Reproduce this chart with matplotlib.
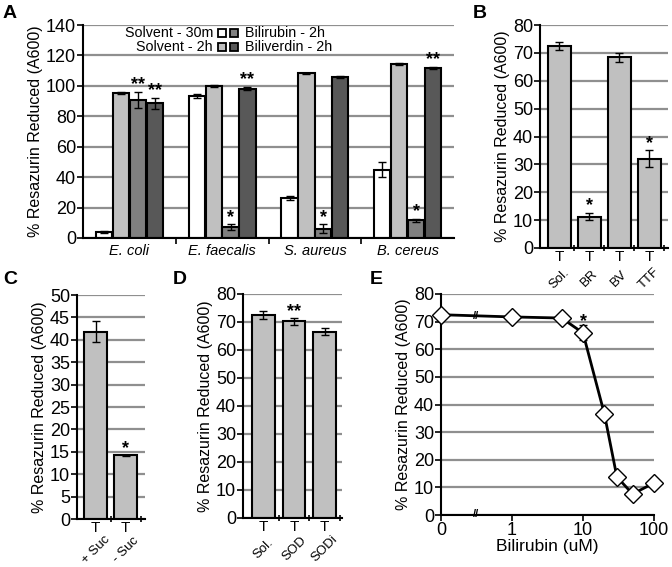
import numpy as np
import matplotlib
matplotlib.use("Agg")
import matplotlib.pyplot as plt
from matplotlib.patches import Rectangle
from matplotlib.transforms import blended_transform_factory

# Global matplotlib parameters
TICK_FONT_SIZE = 13
LABEL_FONT_SIZE = 11.5
CAT_FONT_SIZE = 10.5
ROT_FONT_SIZE = 9.5
GRID_COLOR = "#8f8f8f"
EDGE_WIDTH = 1.5

plt.rc("font", family=["Liberation Sans", "DejaVu Sans"])
plt.rc("xtick", labelsize=CAT_FONT_SIZE)
plt.rc("ytick", labelsize=TICK_FONT_SIZE)

WHITE = "#ffffff"
LIGHT = "#c0c0c0"
MID = "#808080"
DARK = "#585858"

# Panel A
A_GROUPS = ["E. coli", "E. faecalis", "S. aureus", "B. cereus"]
A_SOLVENT_30M = [3.9, 93.4, 26.3, 44.8]
A_SOLVENT_30M_ERR = [0.9, 1.5, 1.5, 5.0]
A_SOLVENT_2H = [95.2, 100.0, 108.3, 114.4]
A_SOLVENT_2H_ERR = [0.6, 0.8, 0.3, 0.9]
A_BILIRUBIN = [90.8, 7.0, 6.1, 11.6]
A_BILIRUBIN_ERR = [5.2, 2.0, 3.0, 1.2]
A_BILIVERDIN = [88.6, 98.2, 106.1, 111.8]
A_BILIVERDIN_ERR = [3.5, 1.2, 0.7, 0.6]
A_BILIRUBIN_STARS = ["**", "*", "*", "*"]
A_BILIVERDIN_STARS = ["**", "**", "", "**"]

# Panel B
B_LABELS = ["Sol.", "BR", "BV", "TTF"]
B_VALUES = [72.5, 11.3, 68.4, 32.0]
B_ERR = [1.4, 1.3, 1.7, 3.0]
B_STARS = ["", "*", "", "*"]

# Panel C
C_LABELS = ["+ Suc", "- Suc"]
C_VALUES = [41.8, 14.2]
C_ERR = [2.4, 0.1]
C_STARS = ["", "*"]

# Panel D
D_LABELS = ["Sol.", "SOD", "SODi"]
D_VALUES = [72.5, 70.2, 66.6]
D_ERR = [1.3, 1.2, 1.4]
D_STARS = ["", "**", ""]

# Panel E
E_CONC = [0, 1, 5, 10, 20, 30, 50, 100]
E_VALUES = [72.5, 71.7, 71.3, 65.9, 36.6, 13.8, 7.6, 11.6]
E_ERR = [0.4, 0.4, 0.4, 2.7, 0.4, 0.4, 0.4, 0.4]
E_STARS = ["", "", "", "*", "", "", "", ""]
E_TICKS = [0, 1, 10, 100]

YLABEL = "% Resazurin Reduced (A600)"


def stylizeAxes(ax, ymax, ystep):
    ax.set_ylim(0, ymax)
    ax.set_yticks(np.arange(0, ymax + 0.1, ystep))
    ax.yaxis.grid(True, color=GRID_COLOR, linewidth=1.6)
    ax.set_axisbelow(True)
    for side in ["top", "right"]:
        ax.spines[side].set_visible(False)
    for side in ["left", "bottom"]:
        ax.spines[side].set_linewidth(EDGE_WIDTH)
    ax.tick_params(axis="y", direction="out", length=4, width=1.2, pad=1)
    ax.set_ylabel(YLABEL, fontsize=LABEL_FONT_SIZE, labelpad=2)


def addStars(ax, xs, values, errs, stars, fontsize=13):
    for x, v, e, s in zip(xs, values, errs, stars):
        if s:
            ax.text(x, v + e - 0.6 * ax.get_ylim()[1] / 80, s, ha="center", va="bottom",
                    fontsize=fontsize, fontweight="bold")


def plotSimpleBars(ax, labels, values, errs, stars, ymax, ystep, xlim):
    xs = np.arange(len(labels))
    stylizeAxes(ax, ymax, ystep)
    ax.bar(xs, values, width=0.74, color=LIGHT, edgecolor="black", linewidth=EDGE_WIDTH,
           yerr=errs, error_kw=dict(ecolor="black", elinewidth=1, capsize=3, capthick=1))
    addStars(ax, xs, values, errs, stars)
    ax.set_xlim(xlim)
    ax.set_xticks(xs)
    # rotated labels are centred on a point below the "T" marks
    ax.set_xticklabels(labels, rotation=45, ha="center", va="center", fontsize=ROT_FONT_SIZE)
    ax.tick_params(axis="x", which="major", length=0, pad=22)
    # small separators between bars
    ax.set_xticks(xs + 0.5, minor=True)
    ax.tick_params(axis="x", which="minor", length=4, width=1.2, direction="inout")
    # little "T" marks under every bar
    trans = blended_transform_factory(ax.transData, ax.transAxes)
    for x in xs:
        ax.text(x, -0.008, "T", transform=trans, ha="center", va="top", fontsize=11)


def plotPanelA(ax):
    groups = np.arange(len(A_GROUPS))
    width = 0.175
    offsets = np.array([-1.5, -0.5, 0.5, 1.5]) * 0.182
    series = [(A_SOLVENT_30M, A_SOLVENT_30M_ERR, WHITE),
              (A_SOLVENT_2H, A_SOLVENT_2H_ERR, LIGHT),
              (A_BILIRUBIN, A_BILIRUBIN_ERR, MID),
              (A_BILIVERDIN, A_BILIVERDIN_ERR, DARK)]
    stylizeAxes(ax, 140, 20)
    for (vals, errs, color), off in zip(series, offsets):
        ax.bar(groups + off, vals, width=width, color=color, edgecolor="black",
               linewidth=EDGE_WIDTH, yerr=errs,
               error_kw=dict(ecolor="black", elinewidth=1, capsize=3, capthick=1))
    addStars(ax, groups + offsets[2], A_BILIRUBIN, A_BILIRUBIN_ERR, A_BILIRUBIN_STARS)
    addStars(ax, groups + offsets[3], A_BILIVERDIN, A_BILIVERDIN_ERR, A_BILIVERDIN_STARS)
    ax.set_xlim(-0.5, len(A_GROUPS) - 0.5)
    ax.set_xticks(groups)
    ax.set_xticklabels(A_GROUPS, style="italic", fontsize=CAT_FONT_SIZE)
    ax.set_xticks(np.arange(0.5, len(A_GROUPS) - 0.5), minor=True)
    ax.tick_params(axis="x", which="major", length=0, pad=4)
    ax.tick_params(axis="x", which="minor", length=4, width=1.2, direction="out")


def addLegendA(fig):
    W, H = 672.0, 567.0
    rows = [("Solvent - 30m", WHITE, MID, "Bilirubin - 2h", 33),
            ("Solvent - 2h", LIGHT, DARK, "Biliverdin - 2h", 47)]
    for left_txt, c1, c2, right_txt, ypx in rows:
        y = 1 - ypx / H
        fig.text(213 / W, y, left_txt, ha="right", va="center", fontsize=10.3)
        for xpx, c in [(218, c1), (230, c2)]:
            fig.add_artist(Rectangle((xpx / W, y - 4 / H), 8 / W, 8 / H, transform=fig.transFigure,
                                     facecolor=c, edgecolor="black", linewidth=1.3))
        fig.text(245 / W, y, right_txt, ha="left", va="center", fontsize=10.3)


def plotPanelE(ax):
    xs = [np.log10(c) if c > 0 else -1.0 for c in E_CONC]
    stylizeAxes(ax, 80, 10)
    ax.errorbar(xs, E_VALUES, yerr=E_ERR, color="black", linewidth=2, ecolor="black",
                elinewidth=1, capsize=3, marker="D", markersize=9.5, markerfacecolor="white",
                markeredgecolor="black", markeredgewidth=1, clip_on=False, zorder=3)
    for x, v, e, s in zip(xs, E_VALUES, E_ERR, E_STARS):
        if s:
            ax.text(x, v + e - 1.5, s, ha="center", va="bottom", fontsize=13, fontweight="bold")
    ax.set_xlim(-1, 2)
    ax.set_xticks([np.log10(t) if t > 0 else -1.0 for t in E_TICKS])
    ax.set_xticklabels([str(t) for t in E_TICKS], fontsize=TICK_FONT_SIZE)
    ax.tick_params(axis="x", direction="out", length=4, width=1.2, pad=1)
    ax.set_xlabel("Bilirubin (uM)", fontsize=12.5, labelpad=0)
    # axis break marks
    ax.text(-0.5, 72.0, "//", ha="center", va="center", fontsize=8, fontweight="bold", zorder=4)
    ax.text(-0.5, 0.3, "//", ha="center", va="center", fontsize=8, fontweight="bold", zorder=4,
            clip_on=False)


def generateFigure():
    W, H = 672.0, 567.0
    fig = plt.figure(figsize=(W / 100, H / 100), dpi=100)

    def axesAt(left, right, top, bottom):
        return fig.add_axes([left / W, 1 - bottom / H, (right - left) / W, (bottom - top) / H])

    axA = axesAt(83, 454, 25, 238)
    axB = axesAt(540, 668, 25, 248)
    axC = axesAt(77, 145, 295, 519)
    axD = axesAt(243, 342, 294, 518)
    axE = axesAt(441, 654, 294, 515)

    plotPanelA(axA)
    addLegendA(fig)
    plotSimpleBars(axB, B_LABELS, B_VALUES, B_ERR, B_STARS, 80, 10, (-0.65, 3.62))
    plotSimpleBars(axC, C_LABELS, C_VALUES, C_ERR, C_STARS, 50, 5, (-0.62, 1.65))
    plotSimpleBars(axD, D_LABELS, D_VALUES, D_ERR, D_STARS, 80, 10, (-0.67, 2.57))
    plotPanelE(axE)

    # Panel letters
    for letter, xpx, ypx in [("A", 3, 5), ("B", 473, 5), ("C", 3, 271), ("D", 173, 271), ("E", 370, 271)]:
        fig.text(xpx / W, 1 - ypx / H, letter, ha="left", va="top", fontsize=14, fontweight="bold")
    return fig


if __name__ == "__main__":
    fig = generateFigure()
    fig.savefig("out.png", dpi=100)
